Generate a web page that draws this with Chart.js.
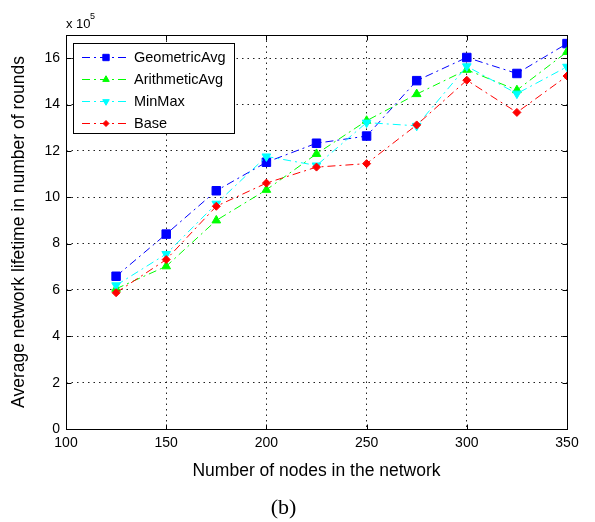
<!DOCTYPE html>
<html>
<head>
<meta charset="utf-8">
<script src="https://cdn.jsdelivr.net/npm/chart.js@4/dist/chart.umd.min.js"></script>
<style>
  html, body { margin: 0; padding: 0; background: #fff; }
  #wrap { width: 595px; height: 522px; }
</style>
</head>
<body>
<div id="wrap"><canvas id="c" width="595" height="522"></canvas></div>
<script>
// Network size (x) and average lifetime in rounds, in units of 10^5 (y)
const nodes = [125, 150, 175, 200, 225, 250, 275, 300, 325, 350];
const geometricAvg  = [6.59, 8.41, 10.28, 11.51, 12.33, 12.64, 15.03, 16.03, 15.34, 16.63];
const arithmeticAvg = [6.05, 7.02, 9.00, 10.32, 11.87, 13.30, 14.45, 15.50, 14.62, 16.27];
const minMax        = [6.20, 7.55, 9.72, 11.76, 11.37, 13.22, 13.08, 15.65, 14.47, 15.63];
const base          = [5.88, 7.31, 9.61, 10.61, 11.30, 11.45, 13.12, 15.05, 13.66, 15.23];

const seriesNames = ['GeometricAvg', 'ArithmeticAvg', 'MinMax', 'Base'];
const xTicks = [100, 150, 200, 250, 300, 350];
const yTicks = [0, 2, 4, 6, 8, 10, 12, 14, 16];

const SANS = '"Liberation Sans", Arial, Helvetica, sans-serif';
const DASHDOT = [8, 4, 2, 4];
const GRID_DOTS = [1.5, 4];

function pts(ys) { return nodes.map((x, i) => ({ x: x, y: ys[i] })); }

function series(label, ys, color, style, rot, radius, order) {
  return {
    label: label,
    data: pts(ys),
    borderColor: color,
    backgroundColor: color,
    borderWidth: 1,
    borderDash: DASHDOT,
    pointStyle: style,
    rotation: rot,
    pointRadius: radius,
    pointBorderWidth: 1,
    pointBorderColor: color,
    pointBackgroundColor: color,
    tension: 0,
    fill: false,
    order: order
  };
}

// Boxed axes with inward tick marks on all four sides
const framePlugin = {
  id: 'frame',
  afterDatasetsDraw(chart) {
    const { ctx, chartArea: a, scales } = chart;
    const L = Math.round(a.left) + 0.5, R = Math.round(a.right) + 0.5;
    const T = Math.round(a.top) + 0.5, B = Math.round(a.bottom) + 0.5;
    ctx.save();
    ctx.strokeStyle = '#000';
    ctx.lineWidth = 1;
    ctx.setLineDash([]);
    ctx.strokeRect(L, T, R - L, B - T);
    const tl = 5;
    ctx.beginPath();
    xTicks.forEach(v => {
      const px = Math.round(scales.x.getPixelForValue(v)) + 0.5;
      ctx.moveTo(px, B); ctx.lineTo(px, B - tl);
      ctx.moveTo(px, T); ctx.lineTo(px, T + tl);
    });
    yTicks.forEach(v => {
      const py = Math.round(scales.y.getPixelForValue(v)) + 0.5;
      ctx.moveTo(L, py); ctx.lineTo(L + tl, py);
      ctx.moveTo(R, py); ctx.lineTo(R - tl, py);
    });
    ctx.stroke();
    ctx.restore();
  }
};

// Boxed legend in the upper-left corner, plus the exponent label
const legendPlugin = {
  id: 'boxLegend',
  afterDraw(chart) {
    const { ctx, chartArea: a } = chart;
    ctx.save();
    // exponent label above the y axis
    ctx.fillStyle = '#000';
    ctx.textBaseline = 'alphabetic';
    ctx.textAlign = 'left';
    ctx.font = '13px ' + SANS;
    ctx.fillText('x 10', a.left, 28);
    ctx.font = '9px ' + SANS;
    ctx.fillText('5', a.left + 24, 19);

    const bx = 73, by = 43, bw = 161, bh = 90;
    ctx.fillStyle = '#fff';
    ctx.fillRect(bx, by, bw, bh);
    ctx.strokeStyle = '#000';
    ctx.lineWidth = 1;
    ctx.strokeRect(bx + 0.5, by + 0.5, bw, bh);

    chart.data.datasets.forEach((ds, i) => {
      const y = 57 + i * 22;
      ctx.strokeStyle = ds.borderColor;
      ctx.lineWidth = 1;
      ctx.setLineDash(ds.borderDash);
      ctx.beginPath();
      ctx.moveTo(82, y + 0.5);
      ctx.lineTo(130, y + 0.5);
      ctx.stroke();
      ctx.setLineDash([]);
      ctx.fillStyle = ds.backgroundColor;
      Chart.helpers.drawPoint(ctx, {
        pointStyle: ds.pointStyle,
        rotation: ds.rotation,
        radius: ds.pointRadius * 0.75,
        borderWidth: 1
      }, 106, y + 0.5);
      ctx.fillStyle = '#000';
      ctx.font = '14.5px ' + SANS;
      ctx.textBaseline = 'middle';
      ctx.textAlign = 'left';
      ctx.fillText(ds.label, 134, y + 1);
    });
    ctx.restore();
  }
};

const datasets = [
  series(seriesNames[0], geometricAvg,  '#0000ff', 'rect',     0,   6,   4),
  series(seriesNames[1], arithmeticAvg, '#00ff00', 'triangle', 0,   5,   3),
  series(seriesNames[2], minMax,        '#00ffff', 'triangle', 180, 5,   2),
  series(seriesNames[3], base,          '#ff0000', 'rectRot',  0,   4,   1)
];

const gridColor = (edgeVals) => (c) => (edgeVals.includes(c.tick.value) ? 'rgba(0,0,0,0)' : '#222');

new Chart(document.getElementById('c'), {
  type: 'line',
  data: { datasets: datasets },
  plugins: [framePlugin, legendPlugin],
  options: {
    responsive: false,
    animation: false,
    devicePixelRatio: 1,
    layout: { padding: { left: 0, right: 28, top: 35, bottom: 0 } },
    plugins: {
      legend: { display: false },
      tooltip: { enabled: false },
      title: {
        display: true,
        position: 'bottom',
        text: '(b)',
        color: '#000',
        font: { family: '"Liberation Serif", "Times New Roman", serif', size: 22, weight: 'normal' },
        padding: { top: 0, bottom: 1 }
      }
    },
    scales: {
      x: {
        type: 'linear',
        min: 100,
        max: 350,
        afterBuildTicks: (s) => { s.ticks = xTicks.map(v => ({ value: v })); },
        afterFit: (s) => { s.height = 93 - 27.4; },
        border: { display: false, dash: GRID_DOTS },
        grid: { color: gridColor([100, 350]), drawTicks: false, lineWidth: 1 },
        ticks: { color: '#000', font: { family: SANS, size: 14 }, padding: 6, maxRotation: 0 },
        title: {
          display: true,
          text: 'Number of nodes in the network',
          color: '#000',
          font: { family: SANS, size: 17.5 },
          padding: { top: 0, bottom: 13 }
        }
      },
      y: {
        type: 'linear',
        min: 0,
        max: 17,
        afterBuildTicks: (s) => { s.ticks = yTicks.map(v => ({ value: v })); },
        afterFit: (s) => { s.width = 66; },
        border: { display: false, dash: GRID_DOTS },
        grid: { color: gridColor([0]), drawTicks: false, lineWidth: 1 },
        ticks: { color: '#000', font: { family: SANS, size: 14 }, padding: 6 },
        title: {
          display: true,
          text: 'Average network lifetime in number of rounds',
          color: '#000',
          font: { family: SANS, size: 17.5 },
          padding: { top: 9, bottom: 0 }
        }
      }
    }
  }
});
</script>
</body>
</html>
